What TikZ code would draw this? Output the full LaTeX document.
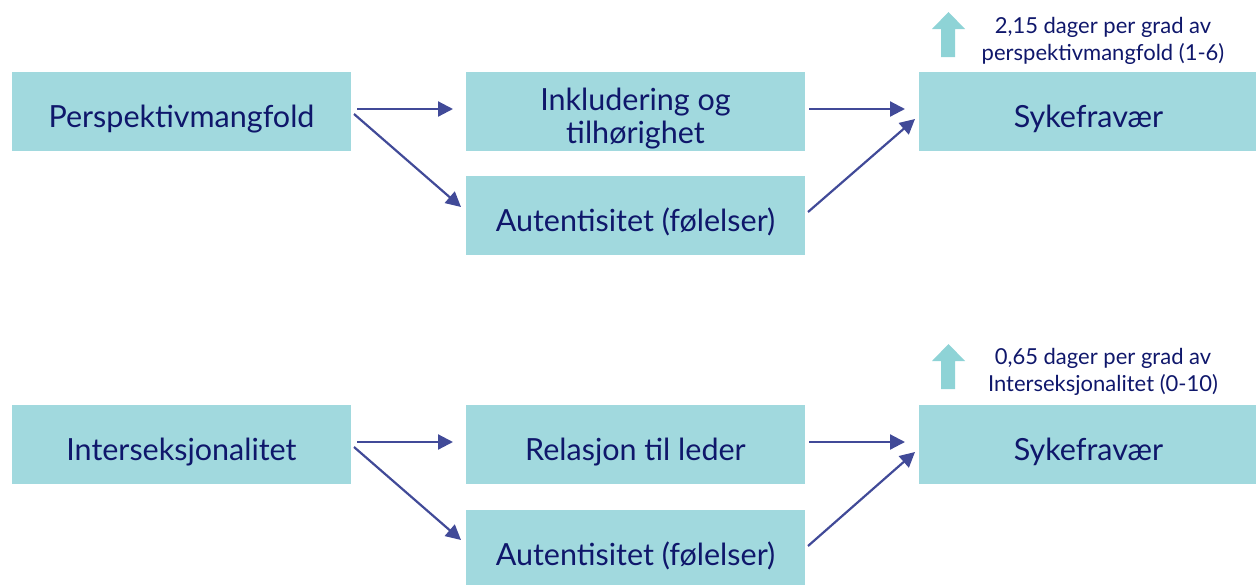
\documentclass[tikz,border=0pt]{standalone}
\usepackage{fontspec}
\setmainfont{Lato}
\usetikzlibrary{arrows.meta}
\definecolor{boxc}{HTML}{A1D9DE}
\definecolor{txtc}{HTML}{0F176B}
\definecolor{arrc}{HTML}{414A98}
\definecolor{upc}{HTML}{8ED3D6}
\begin{document}
\begin{tikzpicture}[x=1pt,y=-1pt,
  box/.style={fill=boxc,draw=none,minimum width=339pt,minimum height=79pt,inner sep=0pt,align=center,text=txtc,font=\fontsize{30.5}{33}\selectfont,text height=32pt,text depth=1pt},
  twoline/.style={text height=64pt,text depth=1pt},
  conn/.style={draw=arrc,line width=2.2pt,-{Triangle[length=15pt,width=15pt]}},
  note/.style={text=txtc,align=center,font=\fontsize{22}{27}\selectfont},
  up/.style={fill=upc,draw=none}]
\useasboundingbox (0,0) rectangle (1256,584);
% top row
\node[box] (p1) at (181.5,111.5) {Perspektivmangfold};
\node[box,twoline] (i1) at (635.5,111.5) {Inkludering og\\tilhørighet};
\node[box] (a1) at (635.5,215.5) {Autentisitet (følelser)};
\node[box] (s1) at (1088.5,111.5) {Sykefravær};
\coordinate (p1o) at (357,109);
\coordinate (p1d) at (354,114);
\coordinate (i1i) at (453,109);
\coordinate (a1i) at (461,207);
\coordinate (i1o) at (809,109);
\coordinate (a1o) at (808,212);
\coordinate (s1i) at (905,109);
\coordinate (s1d) at (915,119);
\draw[conn] (p1o) -- (i1i);
\draw[conn] (p1d) -- (a1i);
\draw[conn] (i1o) -- (s1i);
\draw[conn] (a1o) -- (s1d);
\fill[up] (941,57) -- (941,29) -- (932,29) -- (948.5,12) -- (965,29) -- (955,29) -- (955,57) -- cycle;
\node[note] (n1) at (1103,41) {2,15 dager per grad av\\perspektivmangfold (1-6)};
% bottom row
\node[box] (p2) at (181.5,444.5) {Interseksjonalitet};
\node[box] (r2) at (635.5,444.5) {Relasjon til leder};
\node[box] (a2) at (635.5,549.5) {Autentisitet (følelser)};
\node[box] (s2) at (1088.5,444.5) {Sykefravær};
\coordinate (p2o) at (357,442);
\coordinate (p2d) at (354,447);
\coordinate (r2i) at (453,442);
\coordinate (a2i) at (461,540);
\coordinate (r2o) at (809,442);
\coordinate (a2o) at (808,546);
\coordinate (s2i) at (905,442);
\coordinate (s2d) at (915,452);
\draw[conn] (p2o) -- (r2i);
\draw[conn] (p2d) -- (a2i);
\draw[conn] (r2o) -- (s2i);
\draw[conn] (a2o) -- (s2d);
\fill[up] (941,389) -- (941,361) -- (932,361) -- (948.5,344) -- (965,361) -- (955,361) -- (955,389) -- cycle;
\node[note] (n2) at (1103,372) {0,65 dager per grad av\\Interseksjonalitet (0-10)};
\end{tikzpicture}
\end{document}
